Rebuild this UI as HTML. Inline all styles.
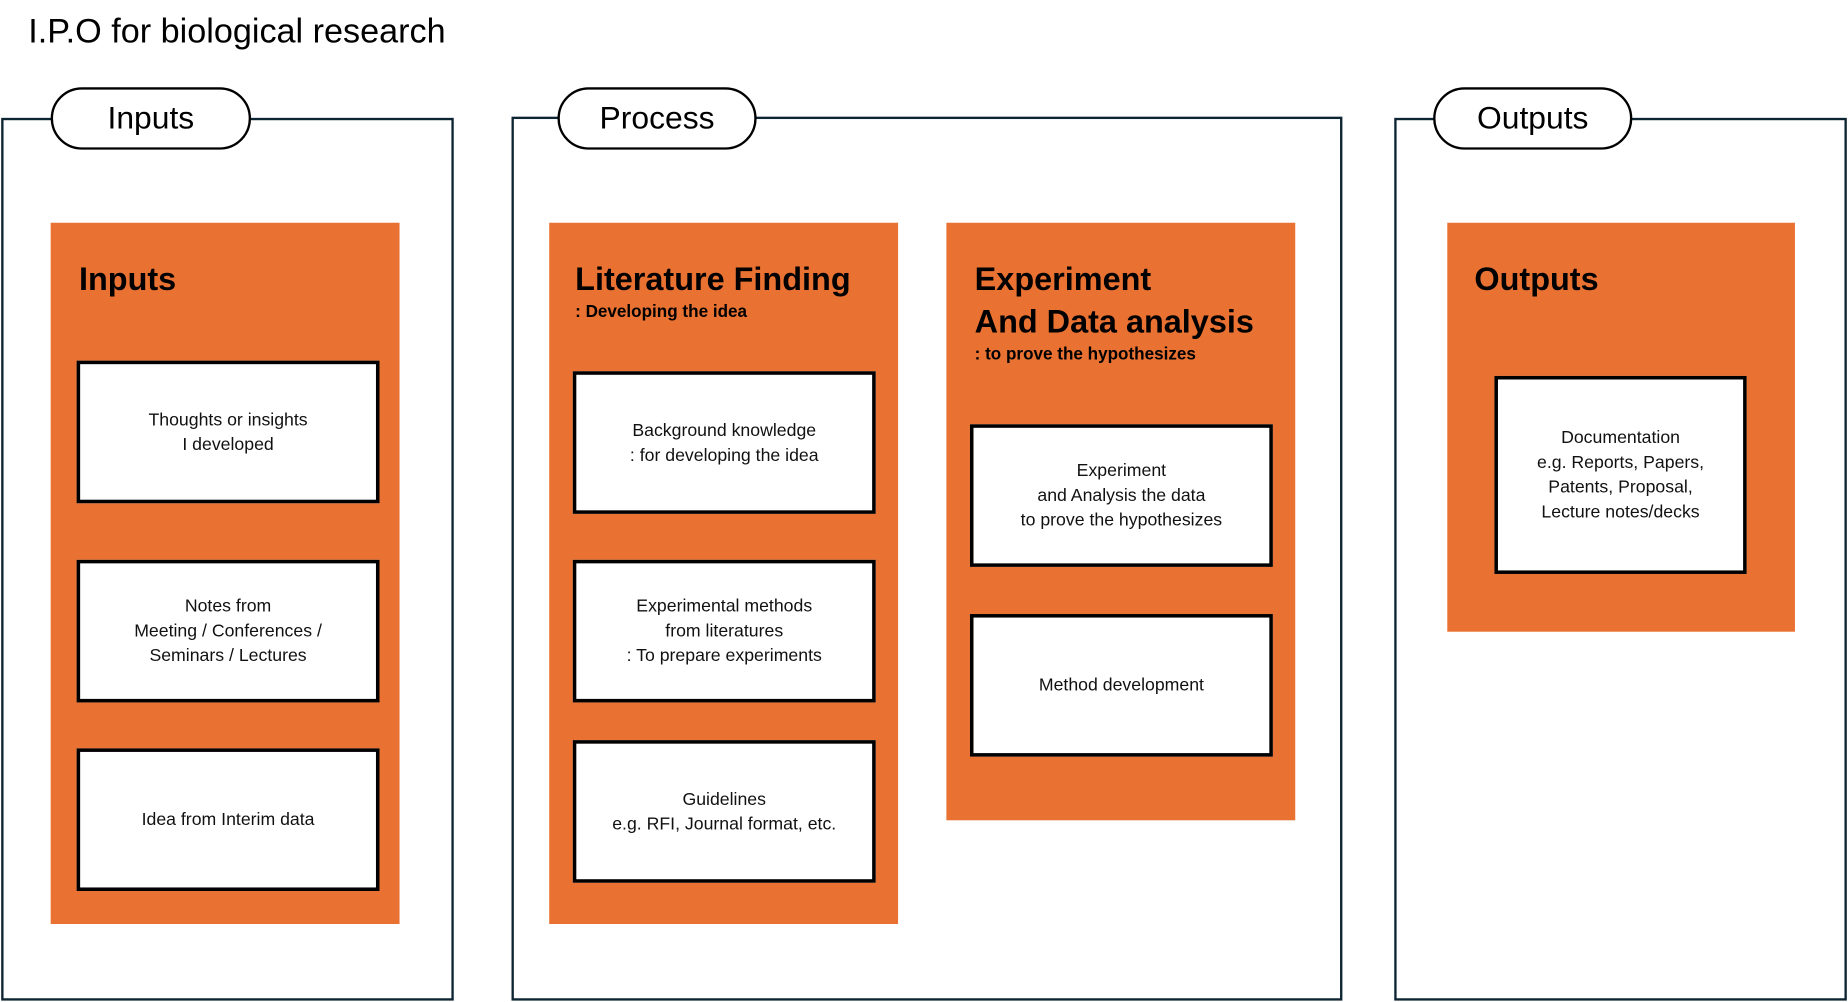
<!DOCTYPE html>
<html><head><meta charset="utf-8"><style>
html,body{margin:0;padding:0;background:#fff;}
body{width:1848px;height:1002px;overflow:hidden;position:relative;font-family:"Liberation Sans",sans-serif;}
#c{position:absolute;left:0;top:0;width:1568px;height:850px;transform:scale(1.17857);transform-origin:0 0;}
.a{position:absolute;box-sizing:border-box;}
.outer{border:2px solid #0d2533;}
.pill{background:#fff;border:2.5px solid #000;border-radius:27px;font-size:27px;display:flex;align-items:center;justify-content:center;color:#000;}
.or{background:#E97132;}
.h{position:absolute;font-weight:bold;font-size:27.5px;color:#000;line-height:36px;white-space:nowrap;}
.sub{position:absolute;font-weight:bold;font-size:14.5px;color:#000;white-space:nowrap;}
.box{background:#fff;border:3px solid #000;display:flex;align-items:center;justify-content:center;text-align:center;font-size:15px;line-height:21px;color:#111;}
</style></head><body><div id="c">
<div class="a" style="left:24px;top:11px;font-size:29px;color:#000;white-space:nowrap">I.P.O for biological research</div>

<div class="a outer" style="left:1px;top:100px;width:384px;height:749px"></div>
<div class="a outer" style="left:434px;top:99px;width:705px;height:750px"></div>
<div class="a outer" style="left:1183px;top:100px;width:384px;height:749px"></div>

<div class="a pill" style="left:43px;top:74px;width:170px;height:53px">Inputs</div>
<div class="a pill" style="left:473px;top:74px;width:169px;height:53px">Process</div>
<div class="a pill" style="left:1216px;top:74px;width:169px;height:53px">Outputs</div>

<div class="a or" style="left:43px;top:189px;width:296px;height:595px"></div>
<div class="h" style="left:67px;top:219px">Inputs</div>
<div class="a box" style="left:65px;top:306px;width:257px;height:121px">Thoughts or insights<br>I developed</div>
<div class="a box" style="left:65px;top:475px;width:257px;height:121px">Notes from<br>Meeting / Conferences /<br>Seminars / Lectures</div>
<div class="a box" style="left:65px;top:635px;width:257px;height:121px">Idea from Interim data</div>

<div class="a or" style="left:466px;top:189px;width:296px;height:595px"></div>
<div class="h" style="left:488px;top:219px">Literature Finding</div>
<div class="sub" style="left:488px;top:257px">: Developing the idea</div>
<div class="a box" style="left:486px;top:315px;width:257px;height:121px">Background knowledge<br>: for developing the idea</div>
<div class="a box" style="left:486px;top:475px;width:257px;height:121px">Experimental methods<br>from literatures<br>: To prepare experiments</div>
<div class="a box" style="left:486px;top:628px;width:257px;height:121px">Guidelines<br>e.g. RFI, Journal format, etc.</div>

<div class="a or" style="left:803px;top:189px;width:296px;height:507px"></div>
<div class="h" style="left:827px;top:219px">Experiment<br>And Data analysis</div>
<div class="sub" style="left:827px;top:293px">: to prove the hypothesizes</div>
<div class="a box" style="left:823px;top:360px;width:257px;height:121px">Experiment<br>and Analysis the data<br>to prove the hypothesizes</div>
<div class="a box" style="left:823px;top:521px;width:257px;height:121px">Method development</div>

<div class="a or" style="left:1228px;top:189px;width:295px;height:347px"></div>
<div class="h" style="left:1251px;top:219px">Outputs</div>
<div class="a box" style="left:1268px;top:319px;width:214px;height:168px">Documentation<br>e.g. Reports, Papers,<br>Patents, Proposal,<br>Lecture notes/decks</div>
</div></body></html>
